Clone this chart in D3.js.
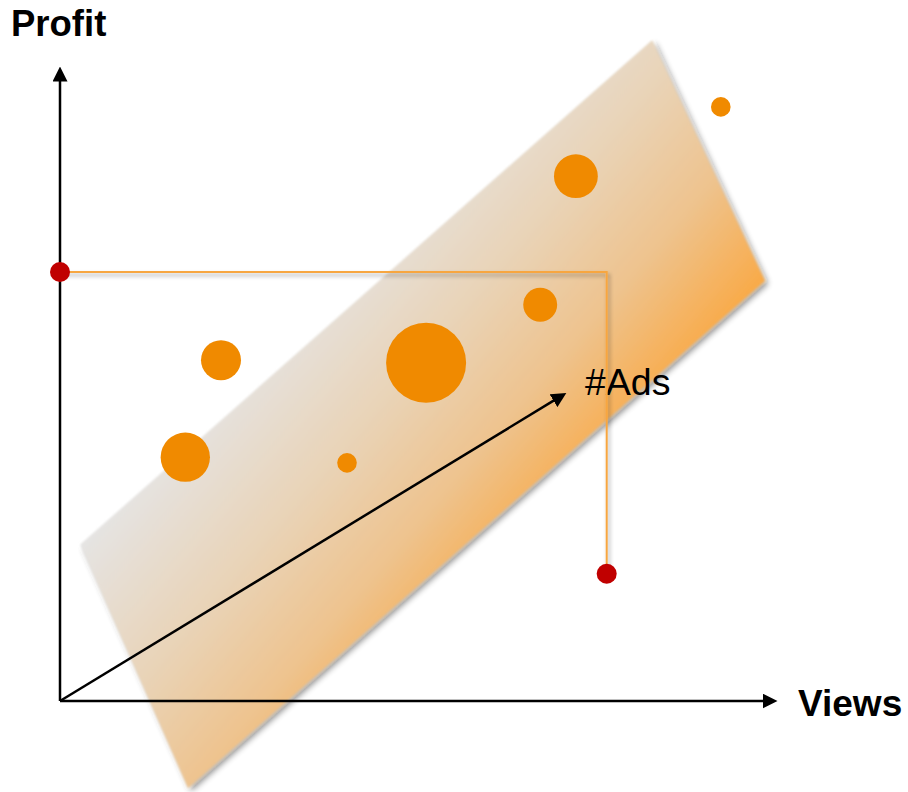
<!DOCTYPE html>
<html>
<head>
<meta charset="utf-8">
<script src="https://cdn.jsdelivr.net/npm/d3@7"></script>
<style>
  html, body { margin: 0; padding: 0; background: #fff; }
  svg { display: block; }
</style>
</head>
<body>
<svg id="chart" width="908" height="792"></svg>
<script>
// Observations: Views (x), Profit (y), #Ads (bubble size)
const views  = [94.4, 73.7, 68.6, 23.0, 52.3, 17.9, 41.0];
const profit = [94.3, 83.3, 62.9, 54.1, 53.7, 38.7, 37.8];
const ads    = [6, 30, 18, 25, 100, 38, 6];

// Regression plane, corners in (views, profit) projected units
const planeViews  = [2.9, 84.6, 100.7, 18.3];
const planeProfit = [24.8, 104.9, 66.7, -13.8];

// Highlighted prediction: profit read on the Profit axis, point on the plane's far side
const guideViews  = [0, 78.1, 78.1];
const guideProfit = [68.1, 68.1, 20.2];
const markerIdx = [0, 2];

// Third axis (#Ads) drawn in projection
const adsAxisEnd = [72.4, 48.9];

const axisLabels = ["Views", "Profit", "#Ads"];

const svg = d3.select("#chart");
const x = d3.scaleLinear().domain([0, 100]).range([60, 760]);
const y = d3.scaleLinear().domain([0, 100]).range([701, 71]);
const r = d3.scaleSqrt().domain([0, 100]).range([0, 40]);

const defs = svg.append("defs");

const planePts = planeViews.map((v, i) => [x(v), y(planeProfit[i])]);

// Gradient runs from the grey left corner towards the orange right corner
const g0 = planePts[0];
const grad = defs.append("linearGradient")
  .attr("id", "planeGrad")
  .attr("gradientUnits", "userSpaceOnUse")
  .attr("x1", g0[0]).attr("y1", g0[1])
  .attr("x2", g0[0] + 263).attr("y2", g0[1] + 226);
grad.append("stop").attr("offset", "0").attr("stop-color", "#e5e4e3");
grad.append("stop").attr("offset", "0.4").attr("stop-color", "#e9d3b6");
grad.append("stop").attr("offset", "0.7").attr("stop-color", "#eec38e");
grad.append("stop").attr("offset", "1").attr("stop-color", "#f9aa48");

const shadow = defs.append("filter").attr("id", "planeShadow")
  .attr("x", "-10%").attr("y", "-10%").attr("width", "120%").attr("height", "120%");
shadow.append("feGaussianBlur").attr("in", "SourceAlpha").attr("stdDeviation", 3).attr("result", "b");
shadow.append("feOffset").attr("in", "b").attr("dx", 3).attr("dy", 3).attr("result", "o");
shadow.append("feComponentTransfer").attr("in", "o").attr("result", "s")
  .append("feFuncA").attr("type", "linear").attr("slope", 0.45);
shadow.append("feGaussianBlur").attr("in", "SourceGraphic").attr("stdDeviation", 1.2).attr("result", "soft");
const m1 = shadow.append("feMerge");
m1.append("feMergeNode").attr("in", "s");
m1.append("feMergeNode").attr("in", "soft");

const lineShadow = defs.append("filter").attr("id", "lineShadow")
  .attr("x", "-10%").attr("y", "-10%").attr("width", "120%").attr("height", "120%");
lineShadow.append("feGaussianBlur").attr("in", "SourceAlpha").attr("stdDeviation", 2).attr("result", "b");
lineShadow.append("feOffset").attr("in", "b").attr("dx", 2).attr("dy", 3).attr("result", "o");
lineShadow.append("feComponentTransfer").attr("in", "o").attr("result", "s")
  .append("feFuncA").attr("type", "linear").attr("slope", 0.35);
const m2 = lineShadow.append("feMerge");
m2.append("feMergeNode").attr("in", "s");
m2.append("feMergeNode").attr("in", "SourceGraphic");

const arrow = defs.append("marker")
  .attr("id", "arrow").attr("viewBox", "0 0 10 10")
  .attr("refX", 1).attr("refY", 5)
  .attr("markerWidth", 6).attr("markerHeight", 6)
  .attr("markerUnits", "strokeWidth")
  .attr("orient", "auto");
arrow.append("path").attr("d", "M0,0 L10,5 L0,10 Z").attr("fill", "#000");

// Plane
svg.append("path")
  .attr("d", d3.line()(planePts) + "Z")
  .attr("fill", "url(#planeGrad)")
  .attr("filter", "url(#planeShadow)");

// Axes
const axes = svg.append("g").attr("stroke", "#000").attr("stroke-width", 2.5).attr("fill", "none");
axes.append("line")
  .attr("x1", x(0)).attr("y1", y(0)).attr("x2", x(0)).attr("y2", y(100) + 9)
  .attr("marker-end", "url(#arrow)");
axes.append("line")
  .attr("x1", x(0)).attr("y1", y(0)).attr("x2", x(100) + 4).attr("y2", y(0))
  .attr("marker-end", "url(#arrow)");
axes.append("line")
  .attr("x1", x(0)).attr("y1", y(0)).attr("x2", x(adsAxisEnd[0]) - 12).attr("y2", y(adsAxisEnd[1]) + 7)
  .attr("marker-end", "url(#arrow)");

// Axis labels
svg.append("text")
  .attr("x", 11).attr("y", 36)
  .attr("font-family", "Liberation Sans, Arial, sans-serif")
  .attr("font-weight", "bold").attr("font-size", 36.5)
  .text(axisLabels[1]);
svg.append("text")
  .attr("x", 798).attr("y", 716)
  .attr("font-family", "Liberation Sans, Arial, sans-serif")
  .attr("font-weight", "bold").attr("font-size", 37)
  .text(axisLabels[0]);
svg.append("text")
  .attr("x", 585).attr("y", 395)
  .attr("font-family", "Liberation Sans, Arial, sans-serif")
  .attr("font-size", 37.5)
  .attr("fill", "#000")
  .text(axisLabels[2]);

// Bubbles
svg.append("g").selectAll("circle")
  .data(views.map((v, i) => ({ v, p: profit[i], a: ads[i] })))
  .join("circle")
  .attr("cx", d => x(d.v))
  .attr("cy", d => y(d.p))
  .attr("r", d => r(d.a))
  .attr("fill", "#f08a00");

// Guide lines for the highlighted prediction
const guidePts = guideViews.map((v, i) => [x(v), y(guideProfit[i])]);
svg.append("path")
  .attr("d", d3.line()(guidePts))
  .attr("fill", "none")
  .attr("stroke", "#f7a641")
  .attr("stroke-width", 2)
  .attr("filter", "url(#lineShadow)");

svg.append("g").selectAll("circle")
  .data(markerIdx.map(i => guidePts[i]))
  .join("circle")
  .attr("cx", d => d[0]).attr("cy", d => d[1])
  .attr("r", 10)
  .attr("fill", "#c00000");
</script>
</body>
</html>
